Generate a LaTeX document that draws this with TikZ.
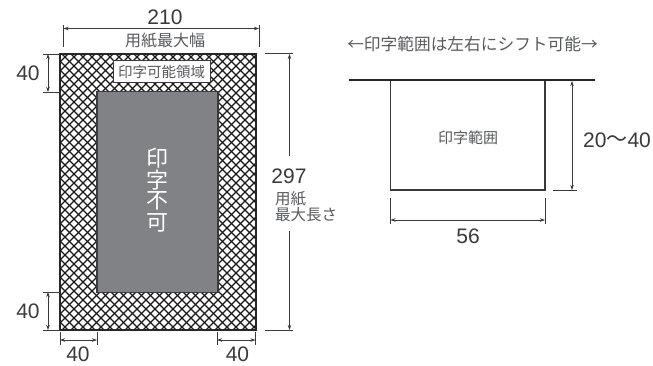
\documentclass[tikz,border=0pt]{standalone}
\usepackage{fontspec}
\usepackage{xcolor}
\usetikzlibrary{arrows.meta}
\setmainfont{Noto Sans CJK JP}
\newfontfamily\numfont{Liberation Sans}
\definecolor{inkgray}{HTML}{3A3A3C}
\definecolor{softgray}{HTML}{58595B}
\definecolor{blockgray}{HTML}{808285}
\tikzset{
    dimline/.style={draw=inkgray, line width=0.7pt, {Stealth[length=5pt,width=3.5pt]}-{Stealth[length=5pt,width=3.5pt]}},
    halfdim/.style={draw=inkgray, line width=0.7pt, -{Stealth[length=5pt,width=3.5pt]}},
    extline/.style={draw=inkgray, line width=0.7pt},
    numlabel/.style={text=inkgray, font=\numfont\fontsize{21}{21}\selectfont, inner sep=0pt},
    jplabel/.style={text=softgray, inner sep=0pt, align=left},
    blockchar/.style={text=white, inner sep=0pt, font=\fontsize{22}{22}\selectfont}
}
\begin{document}
\begin{tikzpicture}[x=1pt, y=-1pt]
    \useasboundingbox (0,0) rectangle (653,365);

    % Paper with hatched margin
    \begin{scope}
        \clip (60,54) rectangle (256,330);
        \foreach \s in {-280,-271,...,480} {
            \draw[black!90, line width=1.15pt] (\s,54) -- (\s+276,330);
            \draw[black!90, line width=1.15pt] (\s,330) -- (\s+276,54);
        }
    \end{scope}
    \draw[black!85, line width=1.5pt] (60,54) rectangle (256,330);

    % No-print block
    \node[draw=inkgray, fill=blockgray, line width=1.5pt, minimum width=121pt, minimum height=201pt, inner sep=0pt] (blocked) at (157.5,192) {};
    \node[blockchar] (blockchar1) at (157.5,158) {印};
    \node[blockchar] (blockchar2) at (157.5,180) {字};
    \node[blockchar] (blockchar3) at (157.5,201) {不};
    \node[blockchar] (blockchar4) at (157.5,223) {可};

    % Printable label
    \node[draw=inkgray, fill=white, line width=0.8pt, minimum width=97pt, minimum height=21.5pt, inner sep=0pt, text=softgray, font=\fontsize{14.5}{14.5}\selectfont] (printable) at (161.5,71.5) {印字可能領域};

    % Width 210
    \coordinate (wl) at (63.5,28.5);
    \coordinate (wr) at (259,28.5);
    \draw[extline] (63.5,25) -- (63.5,47);
    \draw[extline] (259,25) -- (259,47);
    \draw[dimline] (wl) -- (wr);
    \node[numlabel] (wnum) at (165,17.5) {210};
    \node[jplabel, font=\fontsize{16}{16}\selectfont] (wtext) at (165,41) {用紙最大幅};

    % Left margins
    \coordinate (lta) at (48,54);
    \coordinate (ltb) at (48,92);
    \coordinate (lba) at (48,292);
    \coordinate (lbb) at (48,330);
    \draw[extline] (43,54) -- (60,54);
    \draw[extline] (43,92) -- (60,92);
    \draw[extline] (43,292) -- (60,292);
    \draw[extline] (43,330) -- (60,330);
    \draw[dimline] (lta) -- (ltb);
    \draw[dimline] (lba) -- (lbb);
    \node[numlabel] (ltnum) at (28,73.5) {40};
    \node[numlabel] (lbnum) at (28,311.5) {40};

    % Bottom margins
    \coordinate (bla) at (60,340);
    \coordinate (blb) at (97,340);
    \coordinate (bra) at (217,340);
    \coordinate (brb) at (255.5,340);
    \draw[extline] (60,332) -- (60,345);
    \draw[extline] (97,332) -- (97,345);
    \draw[extline] (217,332) -- (217,345);
    \draw[extline] (255.5,332) -- (255.5,345);
    \draw[dimline] (bla) -- (blb);
    \draw[dimline] (bra) -- (brb);
    \node[numlabel] (blnum) at (78,354.5) {40};
    \node[numlabel] (brnum) at (237.5,354.5) {40};

    % Length 297
    \coordinate (lena) at (289.5,156);
    \coordinate (lentop) at (289.5,54);
    \coordinate (lenb) at (289.5,231);
    \coordinate (lenbot) at (289.5,330);
    \draw[extline] (265,53.5) -- (293,53.5);
    \draw[extline] (265,330) -- (293,330);
    \draw[halfdim] (lena) -- (lentop);
    \draw[halfdim] (lenb) -- (lenbot);
    \node[numlabel] (lnum) at (289,176) {297};
    \node[jplabel, anchor=west, font=\fontsize{15.5}{15.5}\selectfont] (ltext1) at (275,199) {用紙};
    \node[jplabel, anchor=west, font=\fontsize{15.5}{15.5}\selectfont] (ltext2) at (275,214.5) {最大長さ};

    % Print range
    \node[jplabel, font=\fontsize{16.7}{16.7}\selectfont] (shifttext) at (472.5,44) {←印字範囲は左右にシフト可能→};
    \coordinate (bara) at (349,80);
    \coordinate (barb) at (595,80);
    \node[draw=inkgray, line width=1.1pt, minimum width=154.5pt, minimum height=110pt, inner sep=0pt] (range) at (467.75,135) {};
    \node[jplabel, font=\fontsize{15}{15}\selectfont] (rangetext) at (468,138) {印字範囲};
    \draw[black!85, line width=2.6pt] (bara) -- (barb);

    % Range height
    \coordinate (rha) at (572,81);
    \coordinate (rhb) at (572,190);
    \draw[extline] (553,190) -- (577,190);
    \draw[dimline] (rha) -- (rhb);
    \node[numlabel] (rhnum) at (617,140) {20\raisebox{0.5pt}{\fontspec{Noto Sans CJK JP}～}40};

    % Range width
    \coordinate (rwa) at (390.5,220);
    \coordinate (rwb) at (545,220);
    \draw[extline] (390.5,198) -- (390.5,224);
    \draw[extline] (545,198) -- (545,224);
    \draw[dimline] (rwa) -- (rwb);
    \node[numlabel] (rwnum) at (468,236) {56};
\end{tikzpicture}
\end{document}
